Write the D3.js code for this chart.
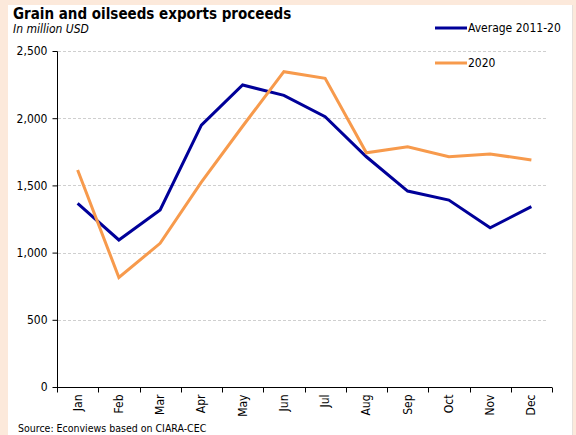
<!DOCTYPE html>
<html><head><meta charset="utf-8">
<script src="https://cdn.jsdelivr.net/npm/d3@7"></script>
<style>html,body{margin:0;padding:0;background:#fce9db;}svg{display:block;}</style>
</head><body>
<script>
const months = ["Jan","Feb","Mar","Apr","May","Jun","Jul","Aug","Sep","Oct","Nov","Dec"];
const average = [1367,1094,1317,1949,2247,2170,2011,1713,1458,1391,1185,1342];
const y2020 = [1615,815,1069,1525,1940,2346,2297,1743,1788,1713,1734,1689];
const yTicks = [0,500,1000,1500,2000,2500];
const seriesNames = ["Average 2011-20","2020"];
const colors = ["#000099","#f79a4c"];

const W=576,H=435;
const font = "'DejaVu Sans Condensed', 'DejaVu Sans', sans-serif";
const svg = d3.select("body").append("svg").attr("width",W).attr("height",H);
svg.append("rect").attr("x",0).attr("y",0).attr("width",W).attr("height",H).attr("fill","#fce9db");
svg.append("rect").attr("x",8).attr("y",5).attr("width",564).attr("height",H-5).attr("fill","#fff");
svg.append("line").attr("x1",572.5).attr("x2",572.5).attr("y1",5).attr("y2",H).attr("stroke","#e6e0dc");

const x = d3.scaleBand().domain(months).range([57,552]);
const y = d3.scaleLinear().domain([0,2500]).range([387,51]);

// grid
svg.append("g").selectAll("line").data(yTicks.slice(1)).join("line")
  .attr("x1",58).attr("x2",548).attr("y1",d=>Math.round(y(d))+0.5).attr("y2",d=>Math.round(y(d))+0.5)
  .attr("stroke","#cfcfcf").attr("stroke-dasharray","3,2").attr("stroke-width",1);

// y axis
const ya = svg.append("g").attr("transform","translate(57.5,0)")
  .call(d3.axisLeft(y).tickValues(yTicks).tickSize(5).tickFormat(d3.format(",")));
ya.select(".domain").attr("d","M0,"+(y(2500)+0.5)+"V"+(y(0)+0.5)).attr("stroke","#000");
ya.selectAll(".tick line").attr("stroke","#000");
ya.selectAll("text").attr("font-family",font).attr("font-size",12).attr("fill","#000").attr("x",-10);

// x axis
const xa = svg.append("g").attr("transform","translate(0,387.5)");
xa.append("line").attr("x1",57).attr("x2",552).attr("y1",0).attr("y2",0).attr("stroke","#000");
xa.selectAll("line.t").data(months.concat(["end"])).join("line").attr("class","t")
  .attr("x1",(d,i)=>Math.round(57+i*x.bandwidth())+0.5).attr("x2",(d,i)=>Math.round(57+i*x.bandwidth())+0.5)
  .attr("y1",0).attr("y2",5).attr("stroke","#000");
xa.selectAll("text").data(months).join("text")
  .attr("transform",d=>`translate(${x(d)+x.bandwidth()/2+4},7) rotate(-90)`)
  .attr("text-anchor","end").attr("font-family",font).attr("font-size",12).attr("fill","#000").text(d=>d);

// lines
const line = d3.line().x((d,i)=>x(months[i])+x.bandwidth()/2).y(d=>y(d));
[average,y2020].forEach((s,k)=>{
  svg.append("path").datum(s).attr("d",line).attr("fill","none").attr("stroke",colors[k])
    .attr("stroke-width",3).attr("stroke-linejoin","miter");
});

// legend
const lg=[{y:28},{y:63}];
seriesNames.forEach((n,k)=>{
  svg.append("line").attr("x1",435).attr("x2",467).attr("y1",lg[k].y).attr("y2",lg[k].y).attr("stroke",colors[k]).attr("stroke-width",3);
  svg.append("text").attr("x",468).attr("y",lg[k].y+4).attr("font-family",font).attr("font-size",12).attr("fill","#000").text(n);
});

// titles
svg.append("text").attr("x",13).attr("y",19).attr("font-family",font).attr("font-weight","bold").attr("font-size",15).attr("fill","#000").text("Grain and oilseeds exports proceeds");
svg.append("text").attr("x",13).attr("y",33).attr("font-family",font).attr("font-style","italic").attr("font-size",12).attr("fill","#000").text("In million USD");
svg.append("text").attr("x",18).attr("y",432).attr("font-family",font).attr("font-size",10.5).attr("fill","#000").text("Source: Econviews based on CIARA-CEC");
</script>
</body></html>
